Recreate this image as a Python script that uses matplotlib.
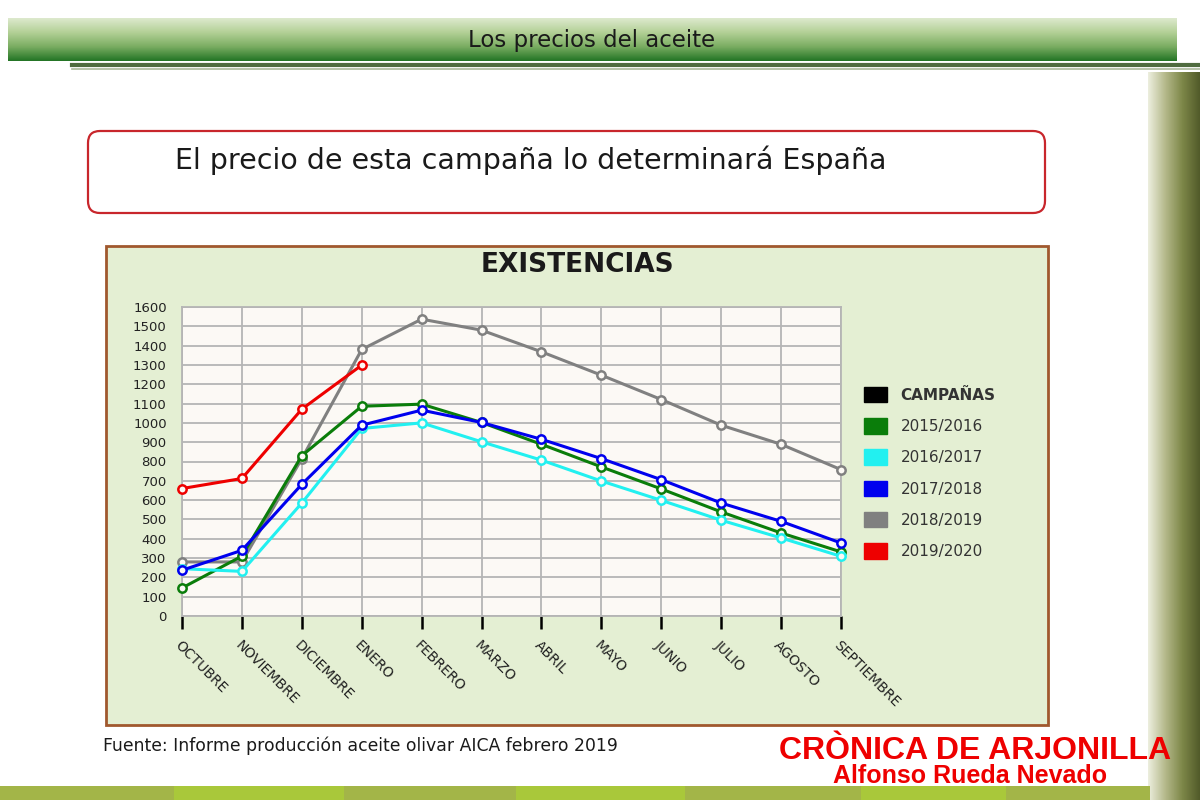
import numpy as np
import matplotlib
import matplotlib.pyplot as plt
from matplotlib.patches import Rectangle, FancyBboxPatch, Patch
from matplotlib.colors import LinearSegmentedColormap
matplotlib.rcParams['font.family'] = ['DejaVu Sans']

meses = ['OCTUBRE', 'NOVIEMBRE', 'DICIEMBRE', 'ENERO', 'FEBRERO', 'MARZO',
         'ABRIL', 'MAYO', 'JUNIO', 'JULIO', 'AGOSTO', 'SEPTIEMBRE']

# existencias por campaña
c1516 = [145, 310, 830, 1086, 1097, 1002, 889, 772, 658, 539, 430, 332]
c1617 = [245, 231, 585, 971, 1000, 902, 807, 699, 599, 496, 404, 309]
c1718 = [237, 340, 682, 988, 1066, 1002, 915, 815, 706, 585, 490, 378]
c1819 = [280, 280, 815, 1380, 1537, 1480, 1368, 1247, 1121, 988, 889, 758]
c1920 = [660, 712, 1071, 1299]

campanas = ['2015/2016', '2016/2017', '2017/2018', '2018/2019', '2019/2020']
colores = ['#0a7d0a', '#22f0f0', '#0000ee', '#808080', '#ee0000']

fig = plt.figure(figsize=(12, 8), dpi=100)

# fondo de la diapositiva en pixeles
bg = fig.add_axes([0, 0, 1, 1], zorder=-1)
bg.axis('off')

cm_head = LinearSegmentedColormap.from_list('head', ['#dde9cd', '#b3d096', '#7aad62', '#247526'])
bg.imshow(np.linspace(0, 1, 60).reshape(-1, 1), cmap=cm_head, aspect='auto',
          extent=(8, 1177, 61, 18))
bg.plot([72, 1200], [65, 65], color='#4f6b3f', lw=3)
bg.plot([72, 1200], [68.5, 68.5], color='#a9b79a', lw=1.2)
bg.text(592, 40, 'Los precios del aceite', ha='center', va='center',
        fontsize=16.5, color='#1a1a1a')

cm_side = LinearSegmentedColormap.from_list('side', ['#eceedd', '#b4b88a', '#7d8748', '#525b2a'])
bg.imshow(np.linspace(0, 1, 60).reshape(1, -1), cmap=cm_side, aspect='auto',
          extent=(1148, 1200, 800, 72))

franjas = [0, 174, 344, 516, 685, 861, 1006, 1150]
for i in range(len(franjas) - 1):
    col = '#a3b548' if i % 2 == 0 else '#a9c83a'
    bg.add_patch(Rectangle((franjas[i], 786), franjas[i + 1] - franjas[i], 14,
                           fc=col, ec='none'))

bg.add_patch(FancyBboxPatch((88, 131), 957, 82, boxstyle='round,pad=0,rounding_size=12',
                            fc='white', ec='#c8262c', lw=1.6))
bg.text(175, 160, 'El precio de esta campaña lo determinará España', ha='left',
        va='center', fontsize=20.5, color='#1a1a1a')

bg.add_patch(Rectangle((106, 246), 942, 479, fc='#e4efd3', ec='#a0582e', lw=2))
bg.text(577, 265, 'EXISTENCIAS', ha='center', va='center', fontsize=19,
        fontweight='bold', color='#1a1a1a')

bg.text(103, 746, 'Fuente: Informe producción aceite olivar AICA febrero 2019',
        ha='left', va='center', fontsize=12.4, color='#1a1a1a')
bg.text(975, 751, 'CRÒNICA DE ARJONILLA', ha='center', va='center', fontsize=23,
        fontweight='bold', color='#ee0000', family='Liberation Sans')
bg.text(970, 776, 'Alfonso Rueda Nevado', ha='center', va='center', fontsize=18,
        fontweight='bold', color='#ee0000', family='Liberation Sans')

bg.set_xlim(0, 1200)
bg.set_ylim(800, 0)

# grafico principal
ax = fig.add_axes([182 / 1200, 1 - 616 / 800, 659 / 1200, 309 / 800])
ax.set_facecolor('#fcf9f5')
x = np.arange(len(meses))
series = [c1819, c1920, c1516, c1617, c1718]
orden = [3, 4, 0, 1, 2]
for s, k in zip(series, orden):
    ax.plot(x[:len(s)], s, color=colores[k], lw=2.2, marker='o', ms=6,
            mfc='#fcf9f5', mec=colores[k], mew=1.8, clip_on=False, zorder=3)

ax.set_xlim(0, 11)
ax.set_ylim(0, 1600)
ax.set_yticks(range(0, 1700, 100))
ax.set_xticks(x)
ax.set_xticklabels(meses, rotation=-45, ha='left', va='top', rotation_mode='anchor',
                   fontsize=10, color='#222222')
ax.tick_params(axis='y', length=0, pad=11, labelsize=9.5, labelcolor='#222222')
ax.tick_params(axis='x', direction='out', length=9, width=1.8, color='black', pad=7)
ax.grid(True, color='#b5b5b5', lw=1.3)
ax.set_axisbelow(True)
for sp in ax.spines.values():
    sp.set_color('#b5b5b5')
    sp.set_linewidth(1.3)

handles = [Patch(fc='black', ec='black')] + [Patch(fc=c, ec=c) for c in colores]
labels = ['CAMPAÑAS'] + campanas
leg = fig.legend(handles, labels, loc='upper left', bbox_to_anchor=(850 / 1200, 1 - 373 / 800),
                 frameon=False, fontsize=11, handlelength=1.5, handleheight=1.2,
                 labelspacing=1.0, handletextpad=0.9)
for i, t in enumerate(leg.get_texts()):
    t.set_color('#333333')
    if i == 0:
        t.set_fontweight('bold')

fig.savefig('out.png', dpi=100)
